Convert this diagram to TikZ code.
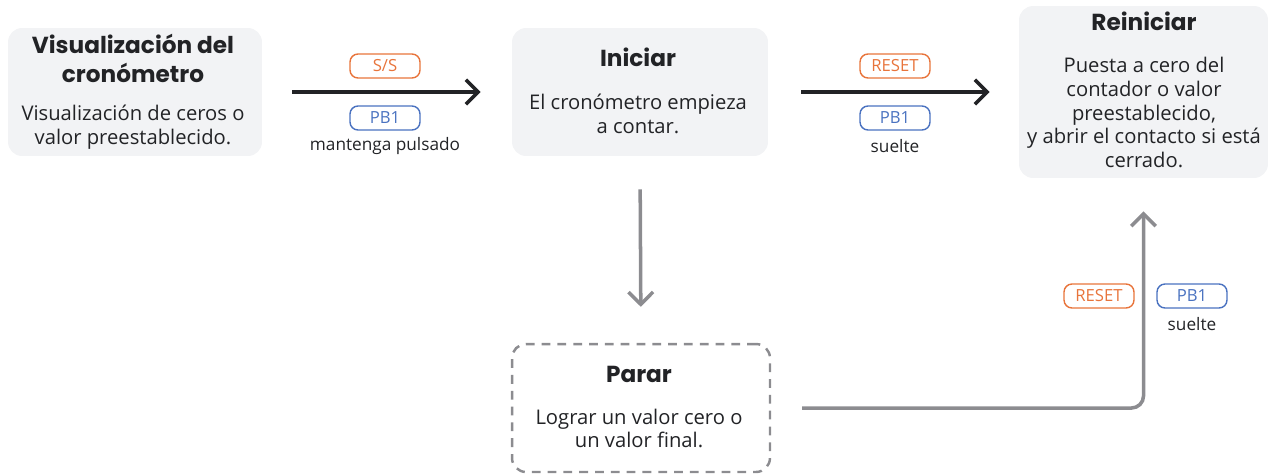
\documentclass[tikz,border=0pt]{standalone}
\usepackage{fontspec}
\setmainfont{Open Sans}
\newfontfamily\headfont{Poppins}
\usepackage{xcolor}
\definecolor{CRbox}{HTML}{F2F3F5}
\definecolor{CRtext}{HTML}{222326}
\definecolor{CRorange}{HTML}{E8743B}
\definecolor{CRblue}{HTML}{4A72C0}
\definecolor{CRgray}{HTML}{8C8C90}
\usetikzlibrary{arrows.meta, positioning}

\begin{document}
\begin{tikzpicture}[x=0.02cm, y=-0.02cm,
  stage/.style={fill=CRbox, rounded corners=0.28cm, inner sep=0pt},
  heading/.style={font=\headfont\bfseries\fontsize{13.2}{16.4}\selectfont,
    text=CRtext, align=center, inner sep=0pt},
  body/.style={font=\fontsize{11.5}{13.6}\selectfont,
    text=CRtext, align=center, inner sep=0pt},
  pill/.style={draw, rounded corners=0.16cm, line width=0.8pt,
    minimum width=1.4cm, minimum height=0.48cm, inner sep=0pt,
    font=\fontsize{9.5}{10}\selectfont},
  note/.style={font=\fontsize{9.8}{10}\selectfont, text=CRtext, inner sep=0pt},
  flow/.style={line width=2pt, -{Straight Barb[length=7pt, width=14pt]}}]
\useasboundingbox (0,0) rectangle (1274,474);

% stages
\node[stage, minimum width=5.08cm, minimum height=2.56cm] (vis) at (135,92) {};
\node[stage, minimum width=5.12cm, minimum height=2.56cm] (ini) at (640,92) {};
\node[stage, minimum width=4.98cm, minimum height=3.44cm] (rei) at (1143.5,92) {};
\node[draw=CRgray, fill=white, rounded corners=0.28cm, line width=1.4pt,
  dash pattern=on 5pt off 4pt, minimum width=5.16cm, minimum height=2.56cm,
  inner sep=0pt] (par) at (641,408) {};

\node[heading] (visT) at (133,58.5) {Visualización del\\cronómetro};
\node[body] (visB) at (133,127) {Visualización de ceros o\\valor preestablecido.};
\node[heading] (iniT) at (638,57) {Iniciar};
\node[body] (iniB) at (638,113.5) {El cronómetro empieza\\a contar.};
\node[heading] (reiT) at (1144,21) {Reiniciar};
\node[body] (reiB) at (1144,112.5) {Puesta a cero del\\contador o valor\\preestablecido,\\y abrir el contacto si está\\cerrado.};
\node[heading] (parT) at (639,374) {Parar};
\node[body] (parB) at (639,428.5) {Lograr un valor cero o\\un valor final.};

% transitions
\draw[flow, CRtext, shorten <=0.6cm, shorten >=0.62cm] (vis.east) -- (ini.west);
\draw[flow, CRtext, shorten <=0.66cm, shorten >=0.58cm] (ini.east) -- (rei.west);
\draw[flow, CRgray, shorten <=0.66cm, shorten >=0.72cm] (ini.south) -- (par.north);
\draw[flow, CRgray, rounded corners=0.24cm, shorten <=0.62cm, shorten >=0.66cm]
  (par.east) -| (rei.south);

% conditions
\node[pill, CRorange] (ss) at (385,66) {S/S};
\node[pill, CRblue] (pbA) at (385,118) {PB1};
\node[note] (holdA) at (385,146) {mantenga pulsado};
\node[pill, CRorange] (rsA) at (895,66) {RESET};
\node[pill, CRblue] (pbB) at (895,118) {PB1};
\node[note] (relB) at (895,146) {suelte};
\node[pill, CRorange] (rsB) at (1099,296) {RESET};
\node[pill, CRblue] (pbC) at (1192,296) {PB1};
\node[note] (relC) at (1192,324) {suelte};
\end{tikzpicture}
\end{document}
